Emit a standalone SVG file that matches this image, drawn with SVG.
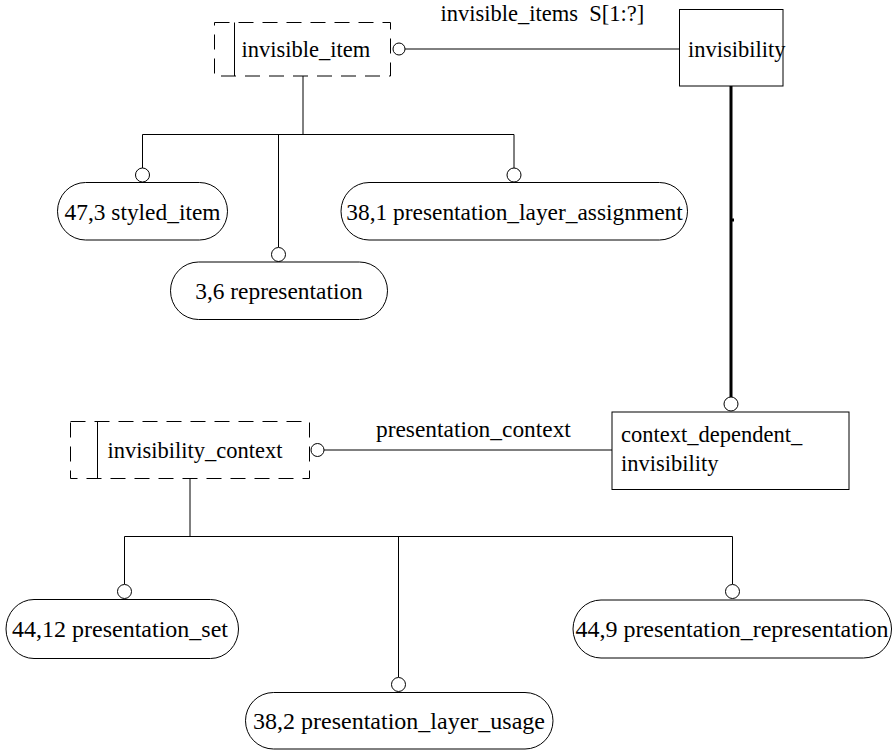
<svg xmlns="http://www.w3.org/2000/svg" width="894" height="751" viewBox="0 0 894 751" font-family="'Liberation Serif', serif">
  <style>
    text { font-family: 'Liberation Serif', serif; fill: #000; }
    .t { font-size: 22.5px; }
    .p { font-size: 23.4px; }
    .pl { font-size: 24px; }
    .box { fill: #fff; stroke: #000; stroke-width: 1; }
    .dash { fill: none; stroke: #000; stroke-width: 1; stroke-dasharray: 15 9; }
    .pill { fill: #fff; stroke: #000; stroke-width: 1; }
    .ln { fill: none; stroke: #000; stroke-width: 1; }
    .thick { fill: none; stroke: #000; stroke-width: 3; }
    .ring { fill: #fff; stroke: #000; stroke-width: 1; }
  </style>

  <!-- connectors -->
  <g id="connectors">
    <!-- invisible_items S[1:?] -->
    <line class="ln" x1="405" y1="49" x2="679" y2="49"/>
    <circle class="ring" cx="399" cy="49" r="6"/>
    <text class="t" x="440.5" y="21" xml:space="preserve">invisible_items  S[1:?]</text>

    <!-- invisibility subtype tree -->
    <line class="ln" x1="303" y1="76" x2="303" y2="134.5"/>
    <line class="ln" x1="142.5" y1="134.5" x2="514" y2="134.5"/>
    <line class="ln" x1="142.5" y1="134.5" x2="142.5" y2="168"/>
    <circle class="ring" cx="142.5" cy="175" r="7"/>
    <line class="ln" x1="278.5" y1="134.5" x2="278.5" y2="247"/>
    <circle class="ring" cx="278.5" cy="254.5" r="7"/>
    <line class="ln" x1="514" y1="134.5" x2="514" y2="168"/>
    <circle class="ring" cx="514" cy="175" r="7"/>

    <!-- thick supertype link -->
    <line class="thick" x1="731" y1="86" x2="731" y2="397"/>
    <rect x="730" y="218.5" width="4" height="3" fill="#000"/>
    <circle class="ring" cx="731" cy="404" r="7"/>

    <!-- presentation_context -->
    <line class="ln" x1="324" y1="450" x2="612" y2="450"/>
    <circle class="ring" cx="317.5" cy="450" r="6.5"/>
    <text class="p" x="376" y="437">presentation_context</text>

    <!-- invisibility_context subtype tree -->
    <line class="ln" x1="190" y1="478.5" x2="190" y2="536.5"/>
    <line class="ln" x1="124.5" y1="536.5" x2="732.5" y2="536.5"/>
    <line class="ln" x1="124.5" y1="536.5" x2="124.5" y2="584"/>
    <circle class="ring" cx="124.5" cy="591.5" r="7"/>
    <line class="ln" x1="398.5" y1="536.5" x2="398.5" y2="677"/>
    <circle class="ring" cx="398.5" cy="684.5" r="7"/>
    <line class="ln" x1="732.5" y1="536.5" x2="732.5" y2="584"/>
    <circle class="ring" cx="732.5" cy="591.5" r="7"/>
  </g>

  <g id="invisible_item">
    <rect class="dash" x="214.5" y="22.5" width="176" height="53.5"/>
    <line class="ln" x1="234.5" y1="22.5" x2="234.5" y2="76"/>
    <text class="t" x="241.5" y="57">invisible_item</text>
  </g>

  <g id="invisibility">
    <rect class="box" x="679.5" y="9.5" width="103.5" height="76.5"/>
    <text class="t" x="688" y="57">invisibility</text>
  </g>

  <g id="styled_item">
    <rect class="pill" x="57.5" y="182.5" width="170" height="57.5" rx="28" ry="28.75"/>
    <text class="p" x="142.5" y="220" text-anchor="middle">47,3 styled_item</text>
  </g>

  <g id="presentation_layer_assignment">
    <rect class="pill" x="341" y="182.5" width="346.5" height="57.5" rx="28" ry="28.75"/>
    <text class="p" x="514.5" y="220" text-anchor="middle">38,1 presentation_layer_assignment</text>
  </g>

  <g id="representation">
    <rect class="pill" x="170.5" y="262" width="217" height="57.5" rx="28" ry="28.75"/>
    <text class="p" x="279" y="298.5" text-anchor="middle">3,6 representation</text>
  </g>

  <g id="invisibility_context">
    <rect class="dash" x="70.5" y="421.5" width="239" height="57"/>
    <line class="ln" x1="97.5" y1="421.5" x2="97.5" y2="478.5"/>
    <text class="t" x="107.5" y="457.5">invisibility_context</text>
  </g>

  <g id="context_dependent_invisibility">
    <rect class="box" x="612" y="412" width="237" height="77.5"/>
    <text class="t" x="621" y="442">context_dependent_</text>
    <text class="t" x="621" y="471">invisibility</text>
  </g>

  <g id="presentation_set">
    <rect class="pill" x="6" y="599.5" width="232.5" height="59" rx="28" ry="29.5"/>
    <text class="pl" x="120" y="637" text-anchor="middle">44,12 presentation_set</text>
  </g>

  <g id="presentation_representation">
    <rect class="pill" x="573" y="600" width="318.5" height="58" rx="28" ry="29"/>
    <text class="pl" x="732" y="637" text-anchor="middle">44,9 presentation_representation</text>
  </g>

  <g id="presentation_layer_usage">
    <rect class="pill" x="245.5" y="692.5" width="307.5" height="56.5" rx="28" ry="28.25"/>
    <text class="pl" x="399" y="729" text-anchor="middle">38,2 presentation_layer_usage</text>
  </g>
</svg>
